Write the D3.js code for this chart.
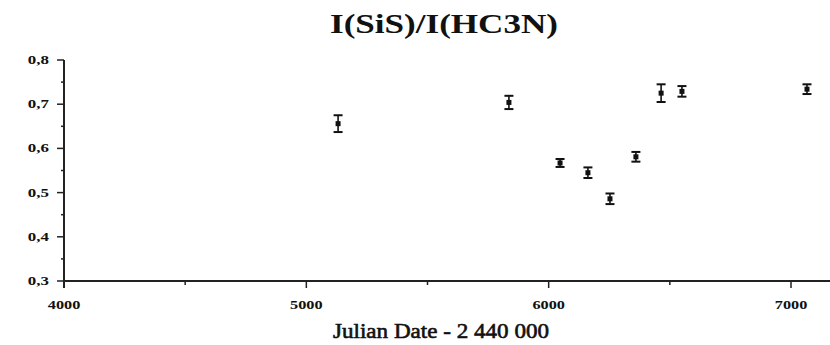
<!DOCTYPE html>
<html>
<head>
<meta charset="utf-8">
<script src="https://cdn.jsdelivr.net/npm/d3@7"></script>
<style>
  html, body { margin: 0; padding: 0; background: #fff; }
  svg { display: block; }
  text { font-family: "Liberation Serif", "DejaVu Serif", serif; fill: #111; }
</style>
</head>
<body>
<svg id="chart" width="830" height="345"></svg>
<script>
// Julian date offsets (JD - 2 440 000)
const dates = [5131, 5836, 6047, 6162, 6253, 6360, 6464, 6550, 7066];
// Intensity ratio I(SiS)/I(HC3N)
const ratios = [0.656, 0.704, 0.567, 0.545, 0.486, 0.581, 0.725, 0.729, 0.734];
// Half-length of the error bars
const errors = [0.019, 0.015, 0.009, 0.012, 0.012, 0.011, 0.020, 0.012, 0.011];

const xTicks = [4000, 5000, 6000, 7000];
const xMinorTicks = [4500, 5500, 6500];
const yTicks = [0.3, 0.4, 0.5, 0.6, 0.7, 0.8];
const yMinorTicks = [0.35, 0.45, 0.55, 0.65, 0.75];

const svg = d3.select("#chart");

const x = d3.scaleLinear().domain([4000, 7000]).range([64, 791]);
const y = d3.scaleLinear().domain([0.3, 0.8]).range([281, 60]);

const fmt = d => d3.format(".1f")(d).replace(".", ",");

// Widen a text element horizontally by a factor, keeping its anchor
function stretch(sel, factor) {
  sel.each(function () {
    const w = this.getComputedTextLength();
    d3.select(this)
      .attr("textLength", w * factor)
      .attr("lengthAdjust", "spacingAndGlyphs");
  });
}

// Title
svg.append("text")
  .attr("x", 444).attr("y", 33)
  .attr("text-anchor", "middle")
  .attr("textLength", 228).attr("lengthAdjust", "spacingAndGlyphs")
  .style("font-size", "28px").style("font-weight", "bold")
  .text("I(SiS)/I(HC3N)");

// X axis
const gx = svg.append("g").attr("transform", `translate(0,${y(0.3)})`);
gx.append("line")
  .attr("x1", x(4000)).attr("x2", 830)
  .attr("stroke", "#222").attr("stroke-width", 2);
gx.selectAll(".xmaj").data(xTicks).join("line")
  .attr("x1", d => x(d)).attr("x2", d => x(d))
  .attr("y1", 0).attr("y2", 7)
  .attr("stroke", "#222").attr("stroke-width", 1.5);
gx.selectAll(".xmin").data(xMinorTicks).join("line")
  .attr("x1", d => x(d)).attr("x2", d => x(d))
  .attr("y1", 0).attr("y2", 4)
  .attr("stroke", "#222").attr("stroke-width", 1.5);
gx.selectAll(".xlab").data(xTicks).join("text")
  .attr("x", d => x(d)).attr("y", 28)
  .attr("text-anchor", "middle")
  .style("font-size", "13px").style("font-weight", "bold")
  .text(d => d)
  .call(stretch, 1.25);

svg.append("text")
  .attr("x", 441).attr("y", 338)
  .attr("text-anchor", "middle")
  .attr("textLength", 216).attr("lengthAdjust", "spacingAndGlyphs")
  .attr("stroke", "#111").attr("stroke-width", 0.6)
  .style("font-size", "21px")
  .text("Julian Date - 2 440 000");

// Y axis
const gy = svg.append("g").attr("transform", `translate(${x(4000)},0)`);
gy.append("line")
  .attr("y1", y(0.8)).attr("y2", y(0.3) + 7)
  .attr("stroke", "#222").attr("stroke-width", 2);
gy.selectAll(".ymaj").data(yTicks).join("line")
  .attr("x1", -7).attr("x2", 0)
  .attr("y1", d => y(d)).attr("y2", d => y(d))
  .attr("stroke", "#222").attr("stroke-width", 1.5);
gy.selectAll(".ymin").data(yMinorTicks).join("line")
  .attr("x1", -3).attr("x2", 1)
  .attr("y1", d => y(d)).attr("y2", d => y(d))
  .attr("stroke", "#222").attr("stroke-width", 1.5);
gy.selectAll(".ylab").data(yTicks).join("text")
  .attr("x", -15).attr("y", d => y(d) + 4)
  .attr("text-anchor", "end")
  .style("font-size", "13px").style("font-weight", "bold")
  .text(fmt)
  .call(stretch, 1.3);

// Data points with error bars
const pts = svg.append("g").selectAll("g")
  .data(dates.map((d, i) => ({ d, r: ratios[i], e: errors[i] })))
  .join("g");
pts.append("line")
  .attr("x1", p => x(p.d)).attr("x2", p => x(p.d))
  .attr("y1", p => y(p.r + p.e)).attr("y2", p => y(p.r - p.e))
  .attr("stroke", "#111").attr("stroke-width", 1.6);
pts.append("line")
  .attr("x1", p => x(p.d) - 4.5).attr("x2", p => x(p.d) + 4.5)
  .attr("y1", p => y(p.r + p.e)).attr("y2", p => y(p.r + p.e))
  .attr("stroke", "#111").attr("stroke-width", 2);
pts.append("line")
  .attr("x1", p => x(p.d) - 4.5).attr("x2", p => x(p.d) + 4.5)
  .attr("y1", p => y(p.r - p.e)).attr("y2", p => y(p.r - p.e))
  .attr("stroke", "#111").attr("stroke-width", 2);
pts.append("rect")
  .attr("x", p => x(p.d) - 2.5).attr("y", p => y(p.r) - 2.5)
  .attr("width", 5).attr("height", 5)
  .attr("fill", "#111");
</script>
</body>
</html>
